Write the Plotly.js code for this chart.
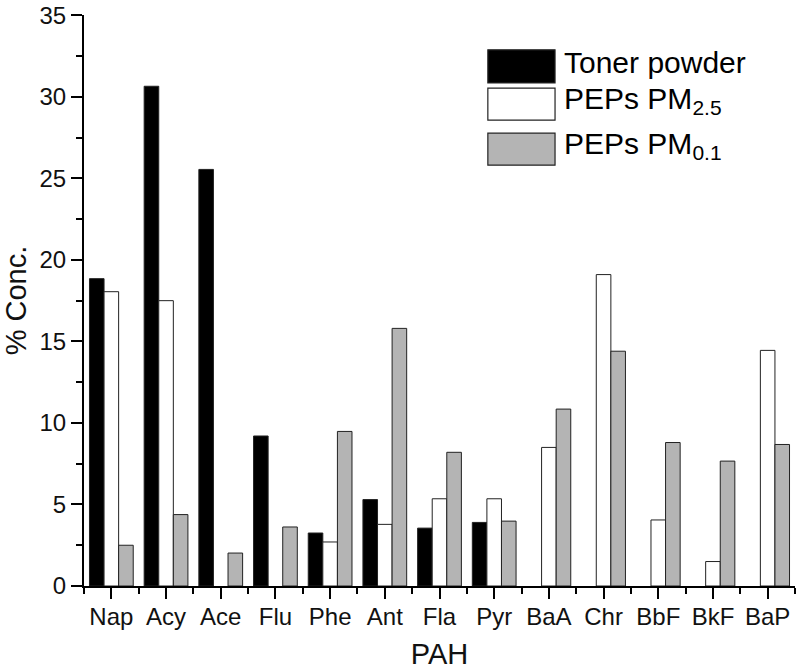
<!DOCTYPE html>
<html>
<head>
<meta charset="utf-8">
<script src="https://cdn.plot.ly/plotly-3.0.1.min.js"></script>
<style>html,body{margin:0;padding:0;background:#fff;}#chart{width:800px;height:670px;}</style>
</head>
<body>
<div id="chart"></div>
<script>
const categories = ["Nap","Acy","Ace","Flu","Phe","Ant","Fla","Pyr","BaA","Chr","BbF","BkF","BaP"];
const tonerPowder = [18.85, 30.65, 25.55, 9.2, 3.25, 5.3, 3.55, 3.9, 0, 0, 0, 0, 0];
const pepsPM25    = [18.05, 17.5, 0, 0, 2.7, 3.78, 5.35, 5.35, 8.5, 19.1, 4.05, 1.5, 14.45];
const pepsPM01    = [2.5, 4.38, 2.02, 3.62, 9.48, 15.8, 8.2, 3.98, 10.85, 14.4, 8.8, 7.66, 8.68];
const yTickVals   = [0, 5, 10, 15, 20, 25, 30, 35];
const seriesNames = ["Toner powder", "PEPs PM<sub>2.5</sub>", "PEPs PM<sub>0.1</sub>"];
const seriesColors = ["#000000", "#ffffff", "#b4b4b4"];
const yTitle = "% Conc.";
const xTitle = "PAH";

const idx = categories.map((c, i) => i);
const FONT = "Liberation Sans, Arial, sans-serif";
const seriesData = [tonerPowder, pepsPM25, pepsPM01];

const traces = seriesData.map((vals, k) => ({
  type: "bar",
  name: seriesNames[k],
  x: idx,
  y: vals,
  marker: {color: seriesColors[k], line: {color: "#222", width: vals.map(v => v > 0 ? 1 : 0)}},
  showlegend: false,
  hoverinfo: "skip"
}));

// custom legend with large swatches (layout decoration)
const legX0 = 0.568, legX1 = 0.6625, legTextX = 0.672;
const legRows = [[0.939, 0.881], [0.872, 0.816], [0.793, 0.737]];
const shapes = legRows.map((r, k) => ({
  type: "rect", xref: "paper", yref: "paper",
  x0: legX0, x1: legX1, y0: r[1], y1: r[0],
  fillcolor: seriesColors[k], line: {color: "#222", width: 1.2}
}));
const annotations = legRows.map((r, k) => ({
  xref: "paper", yref: "paper", x: legTextX, y: (r[0] + r[1]) / 2 + 0.006,
  xanchor: "left", yanchor: "middle", showarrow: false,
  text: seriesNames[k], font: {family: FONT, size: 30, color: "#000"}
}));

const layout = {
  width: 800, height: 670,
  margin: {l: 84, r: 5, t: 15, b: 84},
  paper_bgcolor: "#fff", plot_bgcolor: "#fff",
  font: {family: FONT, color: "#111"},
  barmode: "group", bargap: 0.2, bargroupgap: 0,
  xaxis: {
    type: "linear", range: [-0.5, 12.5],
    tickvals: idx, ticktext: categories,
    showgrid: false, zeroline: false,
    showline: true, linecolor: "#000", linewidth: 2,
    ticks: "outside", ticklen: 11, tickwidth: 2, tickcolor: "#000",
    ticklabelstandoff: -3,
    tickfont: {family: FONT, size: 24, color: "#111"},
    minor: {tick0: 0.5, dtick: 1, ticks: "outside", ticklen: 6, tickwidth: 2, tickcolor: "#000", showgrid: false},
    title: {text: xTitle, font: {family: FONT, size: 29, color: "#111"}, standoff: 18}
  },
  yaxis: {
    range: [0, 35.02],
    tickmode: "array", tickvals: yTickVals,
    ticklabeloverflow: "allow",
    showgrid: false, zeroline: false,
    showline: true, linecolor: "#000", linewidth: 2,
    ticks: "outside", ticklen: 11, tickwidth: 2, tickcolor: "#000",
    tickfont: {family: FONT, size: 24, color: "#111"},
    minor: {tick0: 0, dtick: 2.5, ticks: "outside", ticklen: 6, tickwidth: 2, tickcolor: "#000", showgrid: false},
    title: {text: yTitle, font: {family: FONT, size: 29, color: "#111"}, standoff: 4}
  },
  shapes: shapes,
  annotations: annotations
};

Plotly.newPlot("chart", traces, layout, {displayModeBar: false, staticPlot: true});
</script>
</body>
</html>
